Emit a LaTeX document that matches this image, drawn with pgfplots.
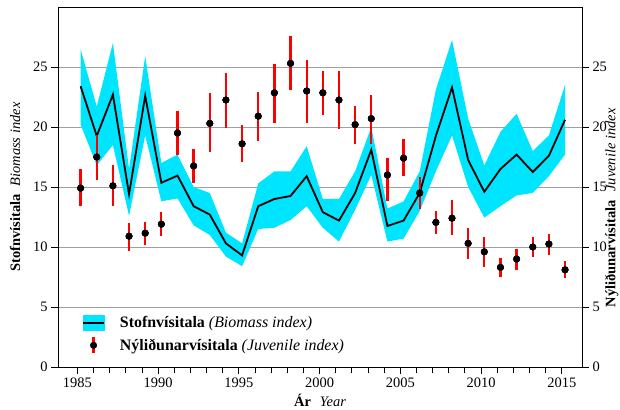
\documentclass[border=0pt]{standalone}
\usepackage{fontspec}
\setmainfont{Liberation Serif}
\usepackage{pgfplots}
\pgfplotsset{compat=1.18}
\usepgfplotslibrary{fillbetween}
\usepackage{pgfplotstable}

\definecolor{band}{RGB}{0,229,255}
\definecolor{gridgray}{RGB}{160,160,160}

% Stofnvisitala: index, upper and lower bound
\pgfplotstableread{
yr   mid    hi     lo
1985 23.4   26.5   20.2
1986 19.25  21.7   16.8
1987 22.7   27.0   18.5
1988 14.4   16.5   12.6
1989 22.6   25.9   19.3
1990 15.35  17.0   13.8
1991 15.95  17.7   14.05
1992 13.4   15.0   11.8
1993 12.7   14.5   11.0
1994 10.3   11.2   9.2
1995 9.3    10.3   8.4
1996 13.4   15.3   11.5
1997 14.0   16.3   11.6
1998 14.25  16.3   12.25
1999 15.9   18.4   13.4
2000 12.9   14.0   11.6
2001 12.2   14.0   10.45
2002 14.5   16.3   13.1
2003 18.1   20.0   16.0
2004 11.75  13.2   10.45
2005 12.2   13.8   10.7
2006 14.5   16.3   13.0
2007 19.25  23.1   16.3
2008 23.3   27.25  19.3
2009 17.25  20.7   15.0
2010 14.6   16.8   12.45
2011 16.5   19.6   13.4
2012 17.7   21.1   14.3
2013 16.25  18.0   14.5
2014 17.6   19.3   15.9
2015 20.6   23.5   17.7
}\biomass

% Nylidunarvisitala: index, upper and lower bound
\pgfplotstableread{
yr   v      hi     lo
1985 14.9   16.5   13.4
1986 17.5   19.3   15.6
1987 15.1   16.8   13.4
1988 10.9   12.0   9.7
1989 11.15  12.1   10.2
1990 11.9   12.95  10.9
1991 19.5   21.3   17.7
1992 16.75  18.2   15.3
1993 20.3   22.8   17.9
1994 22.25  24.5   19.95
1995 18.6   20.2   17.05
1996 20.9   22.9   18.85
1997 22.85  25.25  20.35
1998 25.3   27.6   23.1
1999 23.0   25.6   20.3
2000 22.85  24.7   21.0
2001 22.25  24.7   19.8
2002 20.2   21.75  18.6
2003 20.7   22.7   18.6
2004 16.0   17.4   13.8
2005 17.4   19.0   15.9
2006 14.5   15.8   13.2
2007 12.05  13.0   11.1
2008 12.4   13.9   11.0
2009 10.3   11.6   9.0
2010 9.6    10.8   8.35
2011 8.3    9.1    7.5
2012 9.0    9.8    8.1
2013 10.0   10.85  9.15
2014 10.25  11.1   9.35
2015 8.1    8.8    7.4
}\juvenile

\pgfplotsset{
  common/.style={
    width=524bp, height=360bp, scale only axis,
    xmin=1983.8, xmax=2016.25, ymin=0, ymax=30,
    ytick={0,5,...,25},
    tick align=outside,
    /pgf/number format/assume math mode=true,
    /pgf/number format/1000 sep={},
    tick label style={font=\fontsize{14.5}{16}\selectfont},
    label style={font=\fontsize{14.5}{17}\selectfont},
    axis line style={line width=0.8bp},
    tick style={line width=0.8bp, black},
    major tick length=7bp, minor tick length=6bp,
  }
}

\begin{document}
\begin{tikzpicture}
\begin{axis}[common, name=ax,
    xtick={1985,1990,...,2015},
    minor xtick={1986,...,2014},
    xtick pos=bottom, ytick pos=left,
    ymajorgrids, grid style={gridgray, line width=0.8bp},
    xlabel={\textbf{Ár}\hspace{9bp}\textit{Year}},
    xlabel style={at={(axis description cs:0.5,-0.094)}, anchor=center},
    ylabel={\textbf{Stofnvísitala}\hspace{8bp}\textit{Biomass index}},
    ylabel style={at={(axis description cs:-0.082,0.5)}, anchor=center, rotate=0},
    legend style={at={(axis description cs:0.04,0.152)}, anchor=north west,
      draw=none, fill=none, font=\fontsize{16}{18}\selectfont,
      row sep=5bp, cells={anchor=west}},
    legend cell align=left,
]
\addplot[name path=up, draw=none, forget plot] table[x expr=\thisrow{yr}+0.2, y=hi] {\biomass};
\addplot[name path=lo, draw=none, forget plot] table[x expr=\thisrow{yr}+0.2, y=lo] {\biomass};
\addplot[band, forget plot] fill between[of=up and lo];
\addplot[black, line width=1.8bp, forget plot] table[x expr=\thisrow{yr}+0.2, y=mid] {\biomass};

\addplot[only marks, mark=*, mark size=3.3bp, black, forget plot,
  error bars/.cd, y dir=both, y explicit, error mark=none,
  error bar style={draw=red, line width=2.3bp}]
  table[x expr=\thisrow{yr}+0.2, y=v,
        y error plus expr=\thisrow{hi}-\thisrow{v},
        y error minus expr=\thisrow{v}-\thisrow{lo}] {\juvenile};
\addplot[only marks, mark=*, mark size=3.3bp, black, forget plot]
  table[x expr=\thisrow{yr}+0.2, y=v] {\juvenile};

\addlegendimage{legend image code/.code={
  \fill[band] (0bp,-7.5bp) rectangle (21bp,7.5bp);
  \draw[black, line width=1.8bp] (0bp,0bp) -- (21bp,0bp);}}
\addlegendentry{\hspace{13bp}\textbf{Stofnvísitala} \textit{(Biomass index)}}
\addlegendimage{legend image code/.code={
  \draw[red, line width=2.3bp] (10.5bp,-8bp) -- (10.5bp,8bp);
  \fill[black] (10.5bp,0bp) circle (3.3bp);}}
\addlegendentry{\hspace{13bp}\textbf{Nýliðunarvísitala} \textit{(Juvenile index)}}
\end{axis}

\begin{axis}[common,
    axis x line=none, axis y line*=right,
    ytick pos=right,
    ylabel={\textbf{Nýliðunarvísitala}\hspace{9bp}\textit{Juvenile index}},
    ylabel style={at={(axis description cs:1.057,0.442)}, anchor=center, rotate=0},
]
\addplot[draw=none] coordinates {(1985,0)};
\end{axis}

\pgfresetboundingbox
\path[use as bounding box] ([xshift=-58bp,yshift=-43bp]ax.south west) rectangle ([xshift=38bp,yshift=7bp]ax.north east);
\end{tikzpicture}
\end{document}
